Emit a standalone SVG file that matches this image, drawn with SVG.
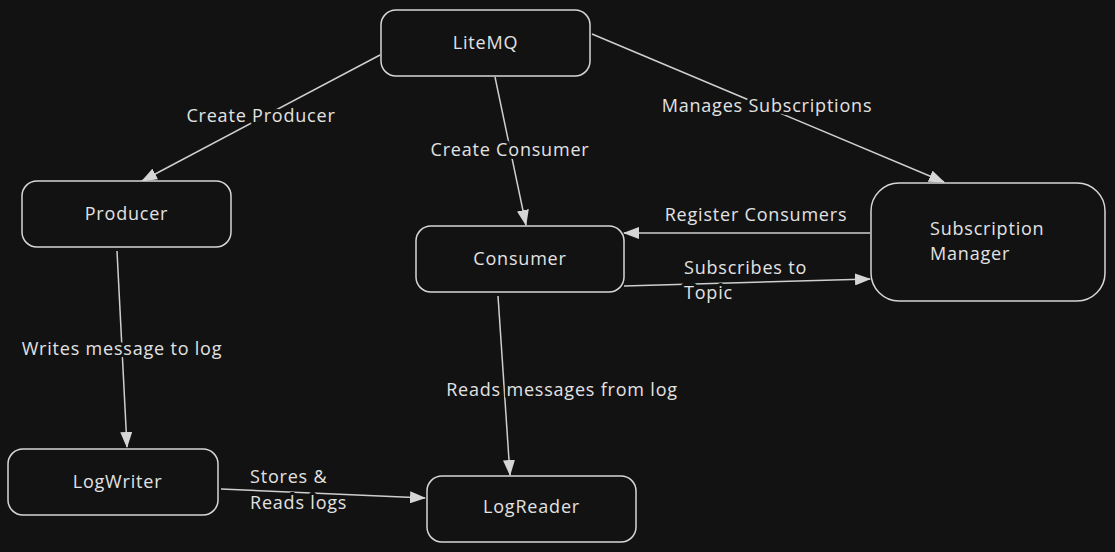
<svg xmlns="http://www.w3.org/2000/svg" width="1115" height="552" viewBox="0 0 1115 552">
<style>
.node rect{fill:#121212;stroke:#d6d6d6;stroke-width:1.5}
.node text,.lbl{font-family:"Open Sans","Liberation Sans",sans-serif;font-size:18px;letter-spacing:0.8px;fill:#e2e2e2}
.node text{text-anchor:middle}
.conn line{stroke:#cfcfcf;stroke-width:1.5;marker-end:url(#ah)}
.lbl{stroke:#121212;stroke-width:6;paint-order:stroke;stroke-linejoin:round}
</style>
<defs>
<marker id="ah" viewBox="0 0 16 12" refX="15" refY="6" markerWidth="16" markerHeight="12" markerUnits="userSpaceOnUse" orient="auto">
<path d="M0,0 L16,6 L0,12 Z" fill="#d6d6d6"/>
</marker>
</defs>
<rect width="1115" height="552" fill="#121212"/>
<g class="conn">
<line x1="380" y1="55" x2="142" y2="181"/>
<line x1="495" y1="77" x2="526" y2="225"/>
<line x1="592" y1="34" x2="944" y2="182"/>
<line x1="870" y1="233" x2="624" y2="233"/>
<line x1="624" y1="286" x2="870" y2="279"/>
<line x1="117" y1="251" x2="127" y2="447"/>
<line x1="498" y1="296" x2="510" y2="475"/>
<line x1="221" y1="489" x2="425" y2="498"/>
<text class="lbl" x="261" y="122" text-anchor="middle">Create Producer</text>
<text class="lbl" x="510" y="156" text-anchor="middle">Create Consumer</text>
<text class="lbl" x="767" y="112" text-anchor="middle">Manages Subscriptions</text>
<text class="lbl" x="756" y="221" text-anchor="middle">Register Consumers</text>
<text class="lbl" x="684" y="274">Subscribes to</text>
<text class="lbl" x="684" y="299">Topic</text>
<text class="lbl" x="122" y="355" text-anchor="middle">Writes message to log</text>
<text class="lbl" x="562" y="396" text-anchor="middle">Reads messages from log</text>
<text class="lbl" x="250" y="483">Stores &amp;</text>
<text class="lbl" x="250" y="509">Reads logs</text>
</g>
<g id="litemq" class="node"><rect x="381" y="10" width="209" height="66" rx="15"/><text x="485.5" y="49">LiteMQ</text></g>
<g id="producer" class="node"><rect x="22" y="181" width="209" height="66" rx="15"/><text x="126.5" y="220">Producer</text></g>
<g id="consumer" class="node"><rect x="416" y="226" width="208" height="66" rx="15"/><text x="520" y="265">Consumer</text></g>
<g id="subscription-manager" class="node"><rect x="871" y="183" width="234" height="118" rx="28"/><text x="930" y="235" style="text-anchor:start">Subscription</text><text x="930" y="260" style="text-anchor:start">Manager</text></g>
<g id="logwriter" class="node"><rect x="8" y="449" width="210" height="66" rx="15"/><text x="117.5" y="488">LogWriter</text></g>
<g id="logreader" class="node"><rect x="427" y="476" width="209" height="66" rx="15"/><text x="531.5" y="513">LogReader</text></g>
</svg>
